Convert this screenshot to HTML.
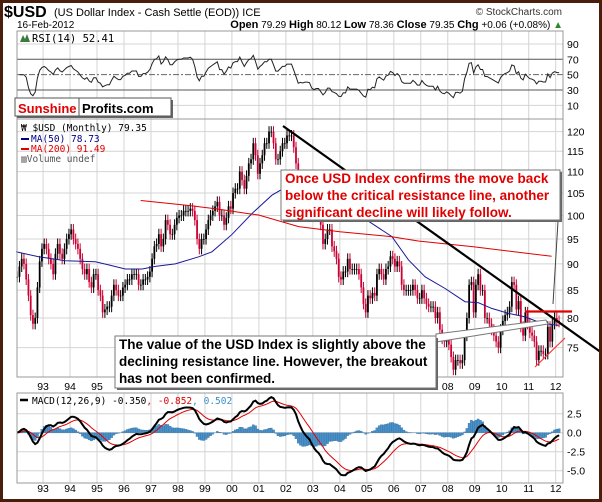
<!DOCTYPE html>
<html><head><meta charset="utf-8"><style>
html,body{margin:0;padding:0;background:#fff;}
svg{display:block;font-family:"DejaVu Sans","Liberation Sans",sans-serif;}
</style></head><body>
<svg id="chart" width="602" height="502" viewBox="0 0 602 502" xmlns="http://www.w3.org/2000/svg">
<rect x="0" y="0" width="602" height="502" fill="#fff"/>
<g id="grid"></g>
<g id="rsi"></g>
<g id="price"></g>
<g id="macd"></g>
<g id="axes"></g>

<text x="4" y="17" font-family="Liberation Sans" font-weight="bold" font-size="16">$USD</text>
<text x="54" y="16" font-family="Liberation Sans" font-size="11">(US Dollar Index - Cash Settle (EOD)) ICE</text>
<text x="17" y="28" font-family="Liberation Sans" font-size="10">16-Feb-2012</text>
<text x="562" y="15" text-anchor="end" font-family="Liberation Sans" font-size="10" fill="#333">© StockCharts.com</text>
<text x="563" y="28" text-anchor="end" font-family="Liberation Sans" font-size="10"><tspan font-weight="bold" font-size="11">Open</tspan> 79.29 <tspan font-weight="bold" font-size="11">High</tspan> 80.12 <tspan font-weight="bold" font-size="11">Low</tspan> 78.36 <tspan font-weight="bold" font-size="11">Close</tspan> 79.35 <tspan font-weight="bold" font-size="11">Chg</tspan> +0.06 (+0.08%) <tspan fill="#2a8a2a">▲</tspan></text>

<g>
<path d="M20 42 L23 35 L25 39 L27 34 L30 42 Z" fill="#3a7a3a"/>
<text x="32" y="42" font-size="10.5" font-family="DejaVu Sans Mono, Liberation Mono, monospace">RSI(14) 52.41</text>
</g>

<g id="overlay">
<g>
<rect x="17" y="100" width="156" height="18" fill="#666"/>
<rect x="15" y="98" width="156" height="18" fill="#fff" stroke="#555"/>
<line x1="79" y1="98" x2="79" y2="116" stroke="#555"/>
<text x="18" y="113" font-family="Liberation Sans" font-weight="bold" font-size="13" fill="#e00000">Sunshine</text>
<text x="82" y="113" font-family="Liberation Sans" font-weight="bold" font-size="13" fill="#000">Profits.com</text>
</g>

<g font-size="9.5" font-family="DejaVu Sans Mono, Liberation Mono, monospace">
<text x="21" y="131">₩ $USD (Monthly) 79.35</text>
<line x1="21" y1="139" x2="29" y2="139" stroke="#00008b" stroke-width="2"/>
<text x="31" y="142" fill="#00008b">MA(50) 78.73</text>
<line x1="21" y1="149" x2="29" y2="149" stroke="#e00000" stroke-width="2"/>
<text x="31" y="152" fill="#e00000">MA(200) 91.49</text>
<text x="21" y="162" fill="#555">▥Volume undef</text>
</g>

<g font-size="9.5" font-family="DejaVu Sans Mono, Liberation Mono, monospace">
<line x1="20" y1="400" x2="28" y2="400" stroke="#000" stroke-width="2.5"/>
<text x="32" y="404">MACD(12,26,9) -0.350<tspan fill="#e00000">, -0.852</tspan><tspan fill="#3a8fc8">, 0.502</tspan></text>
</g>

<g>
<line x1="283" y1="126" x2="602" y2="353" stroke="#000" stroke-width="2.2"/>
<line x1="525" y1="311.5" x2="572" y2="311.5" stroke="#e00000" stroke-width="2.2"/>
<line x1="535" y1="367" x2="565" y2="338" stroke="#ff3030" stroke-width="1.2"/>
<polygon points="436,334 546,320 548,324 436,342" fill="#fff" stroke="#777" stroke-width="1"/>
<line x1="561" y1="172" x2="553" y2="304" stroke="#444" stroke-width="1"/>
</g>

<g>
<rect x="283" y="172" width="279" height="50" fill="#666"/>
<rect x="281" y="170" width="279" height="50" fill="#fff" stroke="#777"/>
<text font-family="Liberation Sans" font-weight="bold" font-size="13.5" fill="#e00000">
<tspan x="285" y="183">Once USD Index confirms the move back</tspan>
<tspan x="285" y="200">below the critical resistance line, another</tspan>
<tspan x="285" y="217">significant decline will likely follow.</tspan></text>
</g>

<g>
<rect x="117" y="338" width="321" height="52" fill="#666"/>
<rect x="115" y="336" width="321" height="52" fill="#fff" stroke="#777"/>
<text font-family="Liberation Sans" font-weight="bold" font-size="13.5" fill="#000">
<tspan x="119" y="349">The value of the USD Index is slightly above the</tspan>
<tspan x="119" y="366">declining resistance line. However, the breakout</tspan>
<tspan x="119" y="383">has not been confirmed.</tspan></text>
</g>
</g>

<rect x="1.5" y="1.5" width="599" height="499" fill="none" stroke="#4a1e0c" stroke-width="3"/>
</svg>
<script>
// ---- data ----
const startYear = 1992;
const closes = [
87.5,89.5,91,90,87,84,80.5,79,80,85.5,90.5,93,
94,93,91,90,88,92,94,92,91,93,95,96,
97,95,94,93,91,89,88,89,86.5,85.5,88,88,
85,84,81,81.5,82,82,84,86,85,84,84,85.5,
86,87,87,88,88,88,86,86,87,87,87.5,88.5,
91,93.5,94,96,93.5,95,99,98,96,96,98,99.5,
100,100,101,101,101,101.5,101,99,95,93,95,95,
97,99,100,101,102,103,100,100,98,99.5,102,101.5,
105,106,106,110,108,106,109,112,113,117,114,109.5,
112,114,117,117,120,120,117,113,113,115,117,117,
119,119,119,116,112,106.5,107,106.5,107,107,106.5,102,
100.5,101,101,98,94,95,97,97,93.5,92.5,91,87.5,
87,88.5,88.5,91,89,89,89,89,88,85.5,82.5,81,
84,83.5,84.5,84,88,89,88,87,89,89.5,91.5,91,
89.5,90.5,89.5,86,85,85,85,85,86,85,83.5,83.5,
85,83.5,82.5,82,82,82,80,81,78,76.5,76,76.5,
75.5,73.5,71.5,73,73,72.5,73,77,80,86,86.5,81,
86,88,85,85,80,80,79,78,77,76,75,78,
79.5,80.5,81,82,86.5,86,81.5,83,78.5,77,81,79,
77.5,77,76,73,74.5,74.5,74,74,78.5,76,79,80,
79.5,79.35];
const ma50Years = [1992.0,1992.84,1993.83,1994.94,1995.43,1996.05,1996.68,1997.16,1997.9,1998.77,1999.26,1999.99,2000.74,2001.48,2001.98,2003.0,2004.0,2005.0,2005.93,2006.54,2007.16,2007.9,2008.64,2009.14,2009.63,2010.25,2010.87,2011.48,2012.1];
const ma50Values = [92.4,91.4,90.6,90.4,89.8,89.0,89.0,89.5,90.0,91.4,92.4,95.9,100.4,104.5,106.3,107,103,99,95.5,90.8,87.5,85.3,82.9,82.7,81.7,80.8,80.2,79.1,78.73];
const ma200Years = [1996.62,1998.4,1999.5,2000.6,2000.99,2002.47,2004.0,2005.9,2006.9,2008.95,2011.85];
const ma200Values = [103.3,102.2,101.4,100.4,100.1,97.6,96.5,95.5,94.6,93.4,91.49];
const priceTicks = [120,115,110,105,100,95,90,85,80,75];
const rsiTicks = [90,70,50,30,10];
const macdTicks = [2.5,0.0,-2.5,-5.0];
const yearLabels = ["93","94","95","96","97","98","99","00","01","02","03","04","05","06","07","08","09","10","11","12"];

// ---- layout / scales ----
const L = 17, R = 563;
const NS = "http://www.w3.org/2000/svg";
function xYear(y){ return 124 + 26.98*(y-1996); }
function xIdx(i){ return xYear(startYear + (i+0.5)/12); }
function yPrice(p){ return 2332 - 459.6*Math.log(p); }
function yRsi(v){ return 113 - 0.767*v; }
function yMacd(v){ return 432.7 - 7.6*v; }
function mk(tag, attrs, parent){
  const e = document.createElementNS(NS, tag);
  for (const k in attrs) e.setAttribute(k, attrs[k]);
  parent.appendChild(e); return e;
}
const gGrid = document.getElementById('grid');
const gRsi = document.getElementById('rsi');
const gPrice = document.getElementById('price');
const gMacd = document.getElementById('macd');
const gAx = document.getElementById('axes');

const panels = [[31,119],[119,377],[393,483]];
for (let k=0;k<yearLabels.length;k++){
  const x = xYear(1993+k);
  for (const p of panels){
    const ln = mk('line',{x1:x,x2:x,y1:p[0],y2:p[1],stroke:'#d4d4d4','stroke-width':1},gGrid);
    
    
  }
  for (const yy of [386,488]){
    const t = mk('text',{x:x,y:yy+4,'text-anchor':'middle','font-size':10.5,'font-family':'Liberation Sans'},gAx);
    t.textContent = yearLabels[k];
    
    
  }
}
priceTicks.forEach(p=>{
  const y = yPrice(p);
  const ln = mk('line',{x1:L,x2:R,y1:y,y2:y,stroke:'#d4d4d4'},gGrid);
  
  
  const t = mk('text',{x:567,y:y+4,'font-size':10.5,'font-family':'Liberation Sans'},gAx);
  t.textContent = p;
  
  
});
rsiTicks.forEach(v=>{
  const y = yRsi(v);
  const strong = (v===70||v===30);
  const ln = mk('line',{x1:L,x2:R,y1:y,y2:y,stroke:strong?'#555':(v===50?'#666':'#d4d4d4'),'stroke-dasharray':v===50?'6,2,2,2':'none'},gGrid);
  
  
  const t = mk('text',{x:567,y:y+4,'font-size':10.5,'font-family':'Liberation Sans'},gAx);
  t.textContent = v;
  
  
});
macdTicks.forEach(v=>{
  const y = yMacd(v);
  const ln = mk('line',{x1:L,x2:R,y1:y,y2:y,stroke:'#d4d4d4'},gGrid);
  
  
  const t = mk('text',{x:567,y:y+4,'font-size':10.5,'font-family':'Liberation Sans'},gAx);
  t.textContent = v.toFixed(1);
  
  
});
panels.forEach(p=>{
  const r = mk('rect',{x:L,y:p[0],width:R-L,height:p[1]-p[0],fill:'none',stroke:'#999'},gAx);
  
  
});

// ---- candles ----
for (let i=0;i<closes.length;i++){
  const c = closes[i], o = i>0?closes[i-1]:closes[i];
  const hi = Math.max(o,c)*1.012, lo = Math.min(o,c)*0.988;
  const x = xIdx(i);
  const col = c < o ? '#cc0033' : '#000';
  const w = mk('line',{x1:x,x2:x,y1:yPrice(hi),y2:yPrice(lo),stroke:col,'stroke-width':1},gPrice);
  
  
  const yt = yPrice(Math.max(o,c)), yb = yPrice(Math.min(o,c));
  const b = mk('rect',{x:x-0.9,y:yt,width:1.8,height:Math.max(0.8,yb-yt),fill:col},gPrice);
  
  
}
function poly(xs, ys, color, name, parent, wdt){
  const pts = xs.map((v,k)=>xs[k].toFixed(1)+','+ys[k].toFixed(1)).join(' ');
  const p = mk('polyline',{points:pts,fill:'none',stroke:color,'stroke-width':wdt||1},parent);
  
  
  return p;
}
poly(ma50Years.map(xYear), ma50Values.map(yPrice), '#1a1a9a','ma50-line',gPrice);
poly(ma200Years.map(xYear), ma200Values.map(yPrice), '#e00000','ma200-line',gPrice);

// ---- RSI(14) ----
const rsi = [];
let ag=0, al=0;
for (let i=1;i<closes.length;i++){
  const d = closes[i]-closes[i-1];
  const g = Math.max(d,0), l = Math.max(-d,0);
  if (i<=14){ ag+=g/14; al+=l/14; } else { ag=(ag*13+g)/14; al=(al*13+l)/14; }
  const v = al===0?100:100-100/(1+ag/al);
  rsi.push([i, i<4?50:v]);
}
poly(rsi.map(r=>xIdx(r[0])), rsi.map(r=>yRsi(r[1])), '#222','rsi-line',gRsi);

// ---- MACD ----
function ema(arr, n){ const k=2/(n+1); const out=[]; let e=arr[0]; arr.forEach(v=>{e=v*k+e*(1-k); out.push(e);}); return out; }
const e12 = ema(closes,12), e26 = ema(closes,26);
const macd = closes.map((v,i)=>e12[i]-e26[i]);
const sig = ema(macd,9);
macd.forEach((m,i)=>{
  const h = m - sig[i];
  const y0 = yMacd(0), y1 = yMacd(h);
  const r = mk('rect',{x:xIdx(i)-1.1,y:Math.min(y0,y1),width:2.2,height:Math.abs(y1-y0),fill:'#4a90c8',stroke:'#2a6a9a','stroke-width':0.3},gMacd);
  
  
});
poly(sig.map((v,i)=>xIdx(i)), sig.map(yMacd), '#e00000','macd-signal-line',gMacd,1);
poly(macd.map((v,i)=>xIdx(i)), macd.map(yMacd), '#000','macd-line',gMacd,2);
</script>
</body></html>
